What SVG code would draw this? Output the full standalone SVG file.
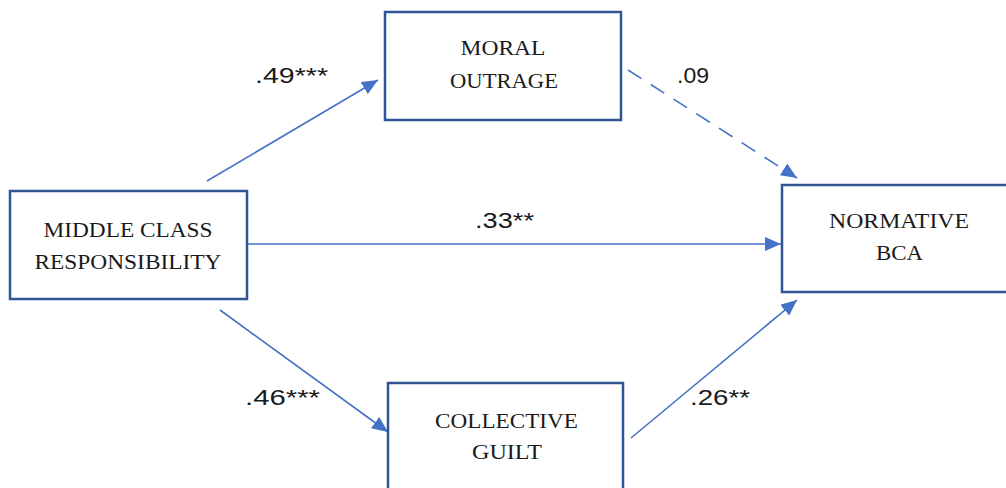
<svg xmlns="http://www.w3.org/2000/svg" width="1006" height="488" viewBox="0 0 1006 488">
<style>
.box{fill:#fff;stroke:#2F5597;stroke-width:2.5}
.nt{font-family:"Liberation Serif","Times New Roman",serif;font-size:22px;fill:#1a1a1a;text-anchor:middle}
.lb{font-family:"Liberation Sans",Arial,sans-serif;font-size:22px;fill:#1a1a1a}
.ln{stroke:#4472C4;stroke-width:1.6;fill:none}
.dash{stroke-dasharray:16,11}
</style>
<defs>
<marker id="ah" markerUnits="userSpaceOnUse" markerWidth="18" markerHeight="14" refX="16" refY="7" orient="auto">
<path d="M0,0 L16,7 L0,14 Z" fill="#4472C4"/>
</marker>
</defs>
<rect width="1006" height="488" fill="#fff"/>
<g id="connectors">
<line class="ln" x1="207" y1="181" x2="378" y2="80" marker-end="url(#ah)"/>
<line class="ln dash" x1="628" y1="70" x2="797" y2="178" marker-end="url(#ah)"/>
<line class="ln" x1="248" y1="244" x2="781" y2="244" marker-end="url(#ah)"/>
<line class="ln" x1="220" y1="310" x2="388" y2="432" marker-end="url(#ah)"/>
<line class="ln" x1="631" y1="438" x2="797" y2="300" marker-end="url(#ah)"/>
</g>
<g id="labels">
<text class="lb" x="255" y="83" textLength="73" lengthAdjust="spacingAndGlyphs">.49***</text>
<text class="lb" x="677" y="83" textLength="32" lengthAdjust="spacingAndGlyphs">.09</text>
<text class="lb" x="475" y="228" textLength="59" lengthAdjust="spacingAndGlyphs">.33**</text>
<text class="lb" x="245" y="405" textLength="75" lengthAdjust="spacingAndGlyphs">.46***</text>
<text class="lb" x="690" y="405" textLength="60" lengthAdjust="spacingAndGlyphs">.26**</text>
</g>
<g id="middle-class">
<rect class="box" x="10" y="191" width="237" height="108"/>
<text class="nt" x="128" y="237" textLength="169" lengthAdjust="spacingAndGlyphs">MIDDLE CLASS</text>
<text class="nt" x="128" y="269" textLength="187" lengthAdjust="spacingAndGlyphs">RESPONSIBILITY</text>
</g>
<g id="moral-outrage">
<rect class="box" x="385" y="12" width="236" height="108"/>
<text class="nt" x="503" y="55" textLength="85" lengthAdjust="spacingAndGlyphs">MORAL</text>
<text class="nt" x="504" y="88" textLength="108" lengthAdjust="spacingAndGlyphs">OUTRAGE</text>
</g>
<g id="normative-bca">
<rect class="box" x="782" y="185" width="240" height="107"/>
<text class="nt" x="899" y="228" textLength="140" lengthAdjust="spacingAndGlyphs">NORMATIVE</text>
<text class="nt" x="899.5" y="260" textLength="47" lengthAdjust="spacingAndGlyphs">BCA</text>
</g>
<g id="collective-guilt">
<rect class="box" x="388" y="383" width="235" height="120"/>
<text class="nt" x="506.5" y="428" textLength="143" lengthAdjust="spacingAndGlyphs">COLLECTIVE</text>
<text class="nt" x="507" y="459" textLength="70" lengthAdjust="spacingAndGlyphs">GUILT</text>
</g>
</svg>
